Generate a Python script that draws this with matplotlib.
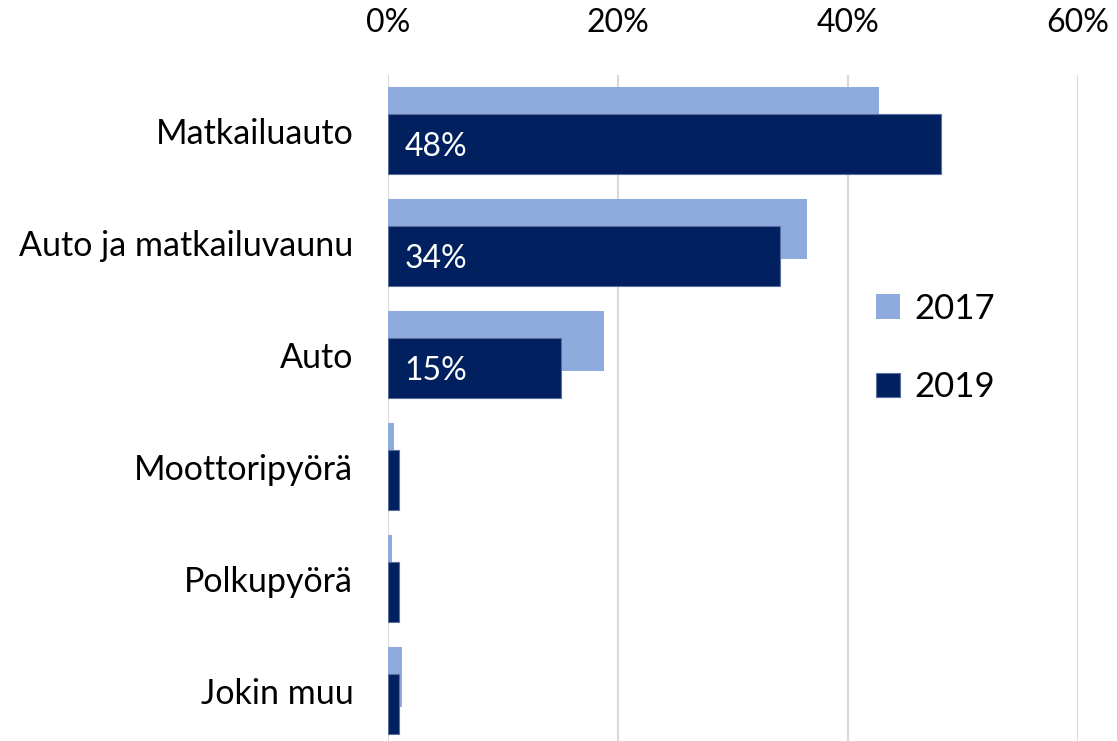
import matplotlib.pyplot as plt
import numpy as np

plt.rcParams["font.family"] = ["Lato", "DejaVu Sans"]

categories = ["Matkailuauto", "Auto ja matkailuvaunu", "Auto",
              "Moottoripyörä", "Polkupyörä", "Jokin muu"]
vals_2017 = [42.7, 36.4, 18.8, 0.55, 0.37, 1.2]
vals_2019 = [48.1, 34.1, 15.0, 0.96, 0.96, 0.96]
labels_2019 = ["48%", "34%", "15%", "", "", ""]

C17 = "#8FAADC"
C19 = "#002060"

fig = plt.figure(figsize=(11.17, 7.41), dpi=100)
ax = fig.add_axes([388 / 1117, -5.5 / 741, 690 / 1117, 672 / 741])

y = np.arange(len(categories))
h = 0.535
off = 0.247

ax.barh(y - off / 2, vals_2017, height=h, color=C17, label="2017", zorder=2)
ax.barh(y + off / 2, vals_2019, height=h, color=C19, label="2019", zorder=3,
        edgecolor="#5A6FA0", linewidth=0.8)

for yi, lab in zip(y, labels_2019):
    if lab:
        ax.text(1.45, yi + off / 2 + 0.02, lab, color="white", fontsize=23,
                va="center", ha="left", zorder=4)

ax.set_xlim(0, 60)
ax.set_ylim(len(categories) - 0.5, -0.5)
ax.set_xticks([0, 20, 40, 60])
ax.set_xticklabels(["0%", "20%", "40%", "60%"])
ax.xaxis.tick_top()
ax.tick_params(axis="x", length=0, pad=26, labelsize=23)
ax.set_yticks(y)
ax.set_yticklabels(categories)
ax.tick_params(axis="y", length=0, pad=25, labelsize=24.5)
ax.grid(axis="x", color="#D9D9D9", linewidth=1.5, zorder=0)
ax.set_axisbelow(True)
for s in ax.spines.values():
    s.set_visible(False)

ax.legend(loc="center left", bbox_to_anchor=(862 / 1117, 393 / 741),
          bbox_transform=fig.transFigure, frameon=False, fontsize=25,
          handlelength=0.7, handleheight=0.7, handletextpad=0.4,
          labelspacing=1.35, borderaxespad=0)

fig.savefig("out.png", dpi=100)
